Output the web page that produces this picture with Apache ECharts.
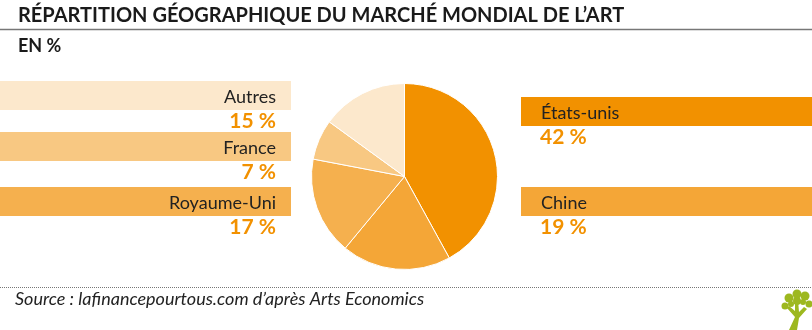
<!DOCTYPE html>
<html><head><meta charset="utf-8">
<script src="https://cdn.jsdelivr.net/npm/echarts@6/dist/echarts.min.js"></script>
<style>html,body{margin:0;padding:0;background:#fff}#c{width:812px;height:330px}</style>
</head><body><div id="c"></div>
<script>
const categories = ['États-unis', 'Chine', 'Royaume-Uni', 'France', 'Autres'];
const values = [42, 19, 17, 7, 15];
const colors = ['#F29100', '#F4A637', '#F5B04E', '#F8C882', '#FCE8CC'];
const sides = ['right', 'right', 'left', 'left', 'left'];
const title = 'RÉPARTITION GÉOGRAPHIQUE DU MARCHÉ MONDIAL DE L’ART';
const subtitle = 'EN %';
const source = 'Source : lafinancepourtous.com d’après Arts Economics';

const chart = echarts.init(document.getElementById('c'), null, {renderer: 'canvas'});
const FONT = 'Lato';
const bannerTop = {'Autres': 81, 'France': 132, 'Royaume-Uni': 187, 'États-unis': 97, 'Chine': 187};
const graphics = [
  {type: 'text', left: 18, top: 6, style: {text: title, fontFamily: FONT, fontWeight: 'bold', fontSize: 20, fill: '#1a1a1a'}},
  {type: 'line', shape: {x1: 0, y1: 29.5, x2: 812, y2: 29.5}, style: {stroke: '#777', lineWidth: 1.5}},
  {type: 'text', left: 18, top: 37, style: {text: subtitle, fontFamily: FONT, fontWeight: 'bold', fontSize: 18, fill: '#1a1a1a'}},
  {type: 'line', shape: {x1: 0, y1: 287.5, x2: 812, y2: 287.5}, style: {stroke: '#777', lineWidth: 1, lineDash: [1, 1]}},
  {type: 'text', left: 15, top: 290, style: {text: source, fontFamily: FONT, fontStyle: 'italic', fontSize: 18, fill: '#222'}}
];
categories.forEach((name, i) => {
  const y = bannerTop[name];
  const left = sides[i] === 'left';
  graphics.push({type: 'rect', shape: left ? {x: 0, y: y, width: 291, height: 29} : {x: 521, y: y, width: 291, height: 29},
    style: {fill: colors[i]}});
  graphics.push({type: 'text', x: left ? 276 : 541, y: y + 16, style: {text: name, fontFamily: FONT, fontSize: 18, fill: '#222', align: left ? 'right' : 'left', verticalAlign: 'middle'}});
  graphics.push({type: 'text', x: left ? 276 : 540, y: y + 40, style: {text: values[i] + ' %', fontFamily: FONT, fontWeight: 'bold', fontSize: 21, fill: '#F29100', align: left ? 'right' : 'left', verticalAlign: 'middle'}});
});
// tree logo
const G = '#9DB81F';
graphics.push({type: 'polygon', shape: {points: [[789, 330], [797, 330], [799, 318], [807, 309], [804, 307], [799, 312], [798, 300], [795, 300], [795, 311], [789, 306], [787, 308], [795, 317]]}, style: {fill: G}});
[[789, 298, 4.5], [797, 294, 4.5], [805, 296, 4.5], [785, 306, 3.5], [809, 304, 3.5], [797, 301, 4], [791, 304, 3], [803, 302, 3]].forEach(c => {
  graphics.push({type: 'circle', shape: {cx: c[0], cy: c[1], r: c[2]}, style: {fill: G}});
});

chart.setOption({
  animation: false,
  color: colors,
  graphic: graphics,
  series: [{
    type: 'pie',
    center: [404.5, 176.5],
    radius: [0, 93],
    startAngle: 90,
    clockwise: true,
    label: {show: false},
    labelLine: {show: false},
    itemStyle: {borderColor: '#fff', borderWidth: 1},
    data: categories.map((n, i) => ({name: n, value: values[i]}))
  }]
});
</script></body></html>
